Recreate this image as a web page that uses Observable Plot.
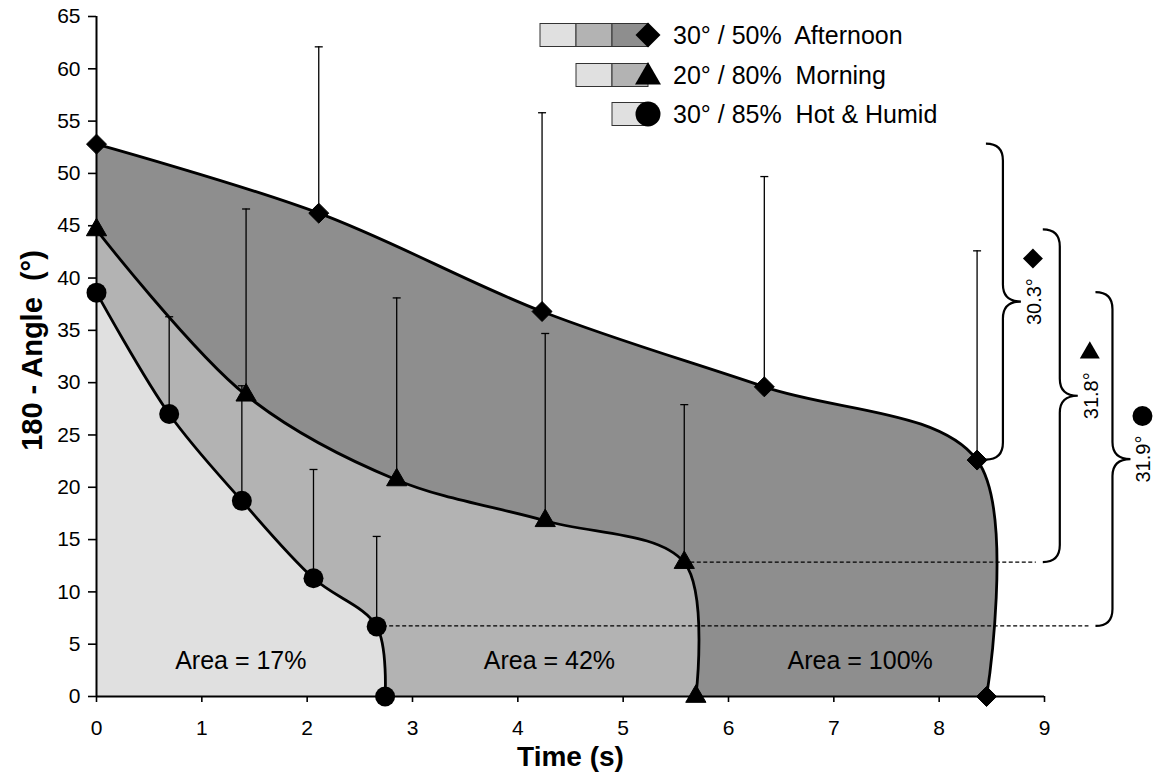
<!DOCTYPE html>
<html>
<head>
<meta charset="utf-8">
<script src="https://cdn.jsdelivr.net/npm/d3@7"></script>
<script src="https://cdn.jsdelivr.net/npm/@observablehq/plot@0.6"></script>
<style>
  body { margin: 0; background: #fff; }
  #chart svg text { white-space: pre; }
</style>
</head>
<body>
<div id="chart"></div>
<script>
// ---------- data ----------
const seriesNames = ["Afternoon", "Morning", "Hot & Humid"];
const legendLabels = ["30° / 50%  Afternoon", "20° / 80%  Morning", "30° / 85%  Hot & Humid"];

const afternoonX   = [0, 2.11, 4.23, 6.34, 8.36, 8.45];
const afternoonY   = [52.8, 46.2, 36.8, 29.6, 22.6, 0];
const afternoonErr = [null, 62.1, 55.8, 49.7, 42.6, null];

const morningX   = [0, 1.42, 2.85, 4.26, 5.58, 5.69];
const morningY   = [44.6, 28.8, 20.7, 16.8, 12.8, 0];
const morningErr = [null, 46.6, 38.1, 34.7, 27.9, null];

const hotX   = [0, 0.69, 1.38, 2.06, 2.66, 2.74];
const hotY   = [38.6, 27.0, 18.7, 11.3, 6.7, 0];
const hotErr = [null, 36.3, 29.7, 21.7, 15.3, null];

const deltaLabels = ["30.3°", "31.8°", "31.9°"];
const areaLabels  = ["Area = 17%", "Area = 42%", "Area = 100%"];
const areaLabelX  = [1.37, 4.3, 7.25];
const areaLabelY  = [3.4, 3.4, 3.4];

const xTicks = d3.range(0, 10, 1);
const yTicks = d3.range(0, 70, 5);

// ---------- styling / layout ----------
const fills   = ["#8e8e8e", "#b3b3b3", "#e0e0e0"];
const symbols = ["diamond2", "triangle", "circle"];
const d3Symbols = [d3.symbolDiamond2, d3.symbolTriangle, d3.symbolCircle];
const braceX = [8.61, 9.15, 9.65];          // vertical stroke of each brace (x units)
const legendRowY = [35, 75, 114];           // px
const legendSymX = 648, legendSegW = 36, legendSegH = 23, legendTextX = 673;

// ---------- build tables ----------
const raw = [
  [afternoonX, afternoonY, afternoonErr],
  [morningX, morningY, morningErr],
  [hotX, hotY, hotErr]
];
const rows = raw.map(([X, Y, E], s) =>
  X.map((x, i) => ({series: seriesNames[s], x, y: Y[i], err: E[i]})));
const errRows = rows.flat().filter(d => d.err != null);

const capSymbol = {
  draw(ctx, size) {
    const w = Math.sqrt(size / Math.PI);
    ctx.moveTo(-w, 0); ctx.lineTo(w, 0);
  }
};

// annotations: braces, dashed leaders, delta labels, legend
function annotations(index, scales, values, dimensions, context) {
  const {x, y} = scales;
  const g = d3.create("svg:g");
  raw.forEach(([X, Y], s) => {
    const xv = x(braceX[s]);
    const xe = xv - 17, xt = xv + 18, r = 17;
    const yTop = y(Y[0]), yBot = y(Y[Y.length - 2]);
    const ym = (yTop + yBot) / 2;
    if (s > 0) {
      g.append("line")
        .attr("x1", x(X[X.length - 2])).attr("x2", xe - 7)
        .attr("y1", yBot).attr("y2", yBot)
        .attr("stroke", "black").attr("stroke-width", 1.2)
        .attr("stroke-dasharray", "4,2.5");
    }
    const p = d3.path();
    p.moveTo(xe, yTop);
    p.quadraticCurveTo(xv, yTop, xv, yTop + r);
    p.lineTo(xv, ym - r);
    p.quadraticCurveTo(xv, ym, xt, ym);
    p.quadraticCurveTo(xv, ym, xv, ym + r);
    p.lineTo(xv, yBot - r);
    p.quadraticCurveTo(xv, yBot, xe, yBot);
    g.append("path").attr("d", p.toString())
      .attr("fill", "none").attr("stroke", "black").attr("stroke-width", 2.2);
    g.append("text")
      .attr("transform", `translate(${xt + 13},${ym}) rotate(-90)`)
      .attr("text-anchor", "middle").attr("dominant-baseline", "central")
      .attr("font-size", 20).attr("fill", "black")
      .text(deltaLabels[s]);
    const sizes = [255, 173, 314];
    g.append("path")
      .attr("transform", `translate(${xt + 12},${ym - 43})`)
      .attr("d", d3.symbol(d3Symbols[s], sizes[s])())
      .attr("fill", "black");
  });
  // legend
  seriesNames.forEach((name, s) => {
    const cy = legendRowY[s];
    const nSeg = 3 - s;
    for (let k = 0; k < nSeg; k++) {
      g.append("rect")
        .attr("x", legendSymX - (nSeg - k) * legendSegW).attr("y", cy - legendSegH / 2)
        .attr("width", legendSegW).attr("height", legendSegH)
        .attr("fill", fills[2 - k]).attr("stroke", "#333").attr("stroke-width", 1);
    }
    const sizes = [398, 292, 491];
    g.append("path")
      .attr("transform", `translate(${legendSymX},${cy + (s === 1 ? 2 : 0)})`)
      .attr("d", d3.symbol(d3Symbols[s], sizes[s])())
      .attr("fill", "black");
    g.append("text")
      .attr("x", legendTextX).attr("y", cy)
      .attr("text-anchor", "start")
      .attr("dominant-baseline", "central")
      .attr("font-size", 25).attr("fill", "black")
      .text(legendLabels[s]);
  });
  return g.node();
}

const chart = Plot.plot({
  width: 1154,
  height: 783,
  marginLeft: 96,
  marginRight: 110,
  marginTop: 16,
  marginBottom: 87,
  x: {domain: [0, 9]},
  y: {domain: [0, 65]},
  style: {fontFamily: "'Liberation Sans', Arial, Helvetica, sans-serif", color: "black", background: "white", overflow: "visible"},
  marks: [
    Plot.areaY(rows[0], {x: "x", y: "y", fill: fills[0], curve: "catmull-rom"}),
    Plot.areaY(rows[1], {x: "x", y: "y", fill: fills[1], curve: "catmull-rom"}),
    Plot.areaY(rows[2], {x: "x", y: "y", fill: fills[2], curve: "catmull-rom"}),
    Plot.ruleX(errRows, {x: "x", y1: "y", y2: "err", stroke: "black", strokeWidth: 1.3}),
    Plot.dot(errRows, {x: "x", y: "err", symbol: capSymbol, r: 4, fill: "none", stroke: "black", strokeWidth: 1.3}),
    Plot.ruleX([0], {stroke: "black", strokeWidth: 2}),
    Plot.ruleY([0], {stroke: "black", strokeWidth: 2}),
    Plot.axisX({ticks: xTicks, tickSize: 6, tickPadding: 18, fontSize: 21, label: null, strokeWidth: 1.6}),
    Plot.axisY({ticks: yTicks, tickSize: 8, tickPadding: 8, fontSize: 21, label: null, strokeWidth: 1.6}),
    ...rows.map(r => Plot.line(r, {x: "x", y: "y", curve: "catmull-rom", stroke: "black", strokeWidth: 2.8})),
    Plot.dot(rows[0], {x: "x", y: "y", symbol: symbols[0], r: 9, fill: "black", stroke: "black", strokeWidth: 1}),
    Plot.dot(rows[1], {x: "x", y: "y", symbol: symbols[1], r: 7.5, fill: "black", stroke: "black", strokeWidth: 1}),
    Plot.dot(rows[2], {x: "x", y: "y", symbol: symbols[2], r: 10, fill: "black", stroke: "black", strokeWidth: 0}),
    Plot.text(areaLabels, {x: (d, i) => areaLabelX[i], y: (d, i) => areaLabelY[i], fontSize: 25, fill: "black"}),
    Plot.text(["Time (s)"], {frameAnchor: "bottom", dy: 69, fontSize: 28, fontWeight: "bold", fill: "black"}),
    Plot.text(["180 - Angle  (°)"], {frameAnchor: "left", textAnchor: "middle", dx: -64, dy: -6, rotate: -90, fontSize: 29, fontWeight: "bold", fill: "black"}),
    annotations
  ]
});
document.getElementById("chart").appendChild(chart);
</script>
</body>
</html>
